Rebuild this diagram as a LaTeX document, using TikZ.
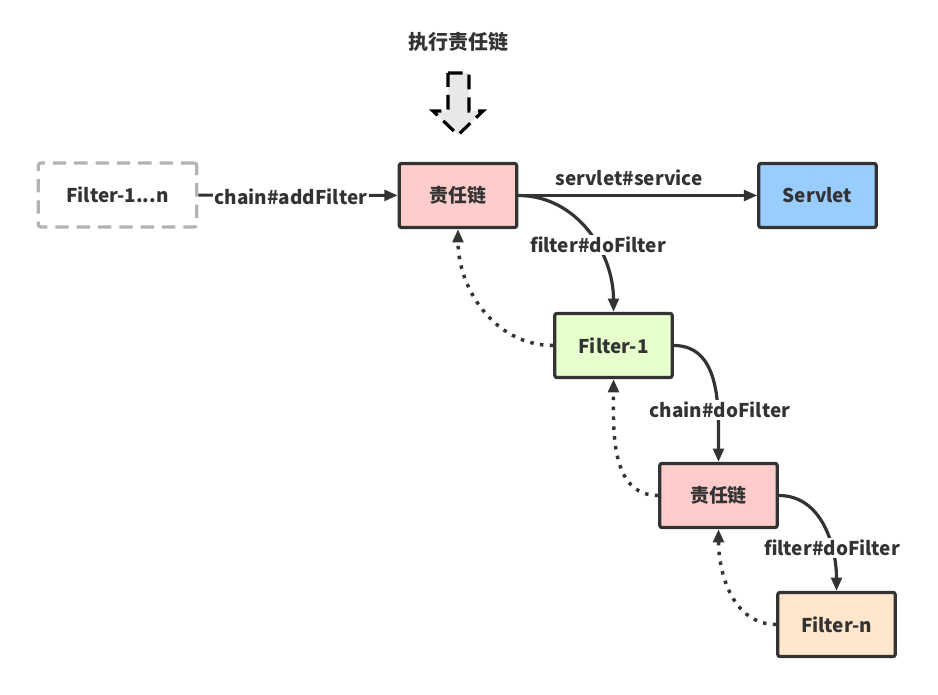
\documentclass[tikz,border=0pt]{standalone}
\usepackage{fontspec}
\setmainfont{Noto Sans CJK SC}
\usetikzlibrary{arrows.meta}
\definecolor{ink}{HTML}{333333}
\definecolor{chainfill}{HTML}{FFCCCC}
\definecolor{servletfill}{HTML}{99CCFF}
\definecolor{firstfill}{HTML}{E6FFCC}
\definecolor{lastfill}{HTML}{FFE6CC}
\definecolor{ghost}{HTML}{B3B3B3}
\begin{document}
\begin{tikzpicture}[x=0.75pt,y=-0.75pt,
  font=\fontsize{14.2pt}{17pt}\selectfont\bfseries, text=ink,
  box/.style={draw=ink, line width=2.4pt, rounded corners=1.5pt,
    minimum width=88pt, minimum height=48pt, inner sep=0pt},
  ghostbox/.style={draw=ghost, line width=2.4pt, rounded corners=2pt,
    dash pattern=on 10pt off 6pt, minimum width=119pt, minimum height=48pt},
  flow/.style={draw=ink, line width=2.4pt, -{Triangle[length=10pt,width=8pt]}},
  back/.style={draw=ink, line width=2.6pt, dash pattern=on 2.6pt off 4.8pt,
    -{Triangle[length=10pt,width=8pt]}},
  lbl/.style={fill=white, inner sep=1.5pt}]
\useasboundingbox (0,0) rectangle (938,695);

% title and the dashed block arrow under it
\node (title) at (458,42) {\fontsize{15pt}{18pt}\selectfont 执行责任链};
\draw[fill=gray!18, draw=black, line width=2.4pt, dash pattern=on 11pt off 6pt]
  (448,73) -- (469,73) -- (469,111) -- (483,111) -- (458,135)
  -- (433,111) -- (448,111) -- cycle;

% boxes
\node[ghostbox] (all) at (117.5,195) {Filter-1...n};
\node[box, fill=chainfill] (chainA) at (458,195.5) {责任链};
\node[box, fill=servletfill] (servlet) at (817.5,195.5) {Servlet};
\node[box, fill=firstfill] (f1) at (613.5,345.5) {Filter-1};
\node[box, fill=chainfill] (chainB) at (718.5,495.5) {责任链};
\node[box, fill=lastfill] (fn) at (836.5,624.5) {Filter-n};

% forward calls
\draw[flow] (all) -- (chainA);
\draw[flow] (chainA) -- (servlet);
\draw[flow] (chainA.east) to[out=0,in=90] (f1.north);
\draw[flow] (f1.east) to[out=0,in=90] (chainB.north);
\draw[flow] (chainB.east) to[out=0,in=90] (fn.north);

% returns
\draw[back] (f1.west) to[out=180,in=-90] (chainA.south);
\draw[back] (chainB.west) to[out=180,in=-90] (f1.south);
\draw[back] (fn.west) to[out=180,in=-90] (chainB.south);

% labels
\node[lbl] (l1) at (291,197) {chain\#addFilter};
\node (l2) at (629,178) {servlet\#service};
\node[lbl] (l3) at (598,245) {filter\#doFilter};
\node[lbl] (l4) at (720,410) {chain\#doFilter};
\node[lbl] (l5) at (832,548) {filter\#doFilter};
\end{tikzpicture}
\end{document}
